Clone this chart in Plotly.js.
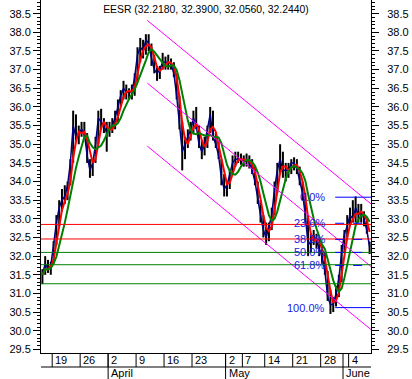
<!DOCTYPE html>
<html><head><meta charset="utf-8">
<script src="https://cdn.plot.ly/plotly-3.0.1.min.js"></script>
<style>html,body{margin:0;padding:0;background:#fff;}#chart{width:412px;height:379px;}</style>
</head><body><div id="chart"></div>
<script>
// Trading-day axis: day index 0 = Mar 15. Two bars per trading day.
const tickDays   = [2, 7, 12, 17, 22, 27, 33, 36, 40, 45, 50, 55];
const tickLabels = ['19', '26', '2', '9', '16', '23', '2', '7', '14', '21', '28', '4'];
const monthDays   = [12, 33, 54];
const monthLabels = ['April', 'May', 'June'];
const nDays = 59;

// Bars (high / low / close), two per day
const high = [
 31.65,32.0, 31.9,31.85, 32.4,33.1, 33.5,33.8, 33.9,34.0, 34.6,35.9, 35.8,35.5, 35.6,35.6, 35.3,34.6, 34.6,35.2,
 35.9,35.95, 35.7,35.6, 35.6,35.7, 35.9,36.2, 36.45,36.7, 36.6,36.5, 36.6,36.9, 37.6,37.85, 37.8,37.95, 37.95,37.7,
 37.4,37.1, 37.1,37.45, 37.35,37.4, 37.3,37.2, 36.9,36.3, 35.6,35.2, 35.4,35.6, 35.9,36.0, 35.5,35.1, 35.2,35.5,
 36.0,35.9, 35.3,35.1, 34.6,34.2, 34.0,34.3, 34.7,34.8, 34.8,34.75, 34.7,34.75, 34.7,34.6, 34.4,34.0, 33.5,33.1,
 32.9,32.9, 33.3,34.0, 34.5,35.0, 34.8,34.5, 34.5,34.6, 34.65,34.6, 34.4,34.0, 33.7,33.1, 32.6,32.7, 32.6,32.5,
 32.3,32.1, 31.6,31.1, 30.9,31.2, 31.5,32.3, 32.7,33.1, 33.3,33.5, 33.6,33.4, 33.4,33.2, 33.0,32.39
];
const low = [
 31.25,31.5, 31.55,31.5, 31.8,32.3, 32.8,33.2, 33.4,33.5, 33.9,34.5, 35.1,35.0, 35.2,35.2, 34.5,34.1, 34.15,34.5,
 35.0,35.4, 35.3,34.8, 35.2,35.3, 35.4,35.6, 36.0,36.2, 36.2,36.2, 36.2,36.3, 36.7,37.2, 37.3,37.4, 37.5,37.1,
 36.9,36.7, 36.75,37.0, 37.0,37.0, 37.0,36.8, 36.2,35.4, 34.3,34.6, 34.9,35.1, 35.3,35.4, 34.9,34.6, 34.7,34.9,
 35.3,35.1, 34.9,34.6, 33.9,33.6, 33.6,33.8, 34.2,34.4, 34.5,34.45, 34.4,34.4, 34.35,34.2, 33.9,33.4, 32.9,32.5,
 32.3,32.4, 32.7,33.1, 33.7,34.2, 34.1,34.0, 34.1,34.2, 34.3,34.2, 33.9,33.5, 32.9,32.0, 32.1,32.3, 32.2,32.0,
 31.8,31.5, 30.8,30.45, 30.5,30.65, 30.9,31.3, 32.1,32.5, 32.8,32.9, 32.9,32.9, 32.9,32.8, 32.6,32.056
];
const close = [
 31.5,31.8, 31.65,31.75, 32.3,32.9, 33.3,33.5, 33.6,33.9, 34.5,35.5, 35.2,35.3, 35.4,35.3, 34.7,34.3, 34.5,35.0,
 35.7,35.6, 35.5,35.3, 35.4,35.5, 35.7,36.0, 36.3,36.5, 36.4,36.4, 36.4,36.8, 37.4,37.6, 37.5,37.8, 37.7,37.3,
 37.0,36.9, 37.0,37.2, 37.2,37.2, 37.15,36.9, 36.3,35.6, 34.8,35.0, 35.2,35.4, 35.7,35.5, 35.0,34.8, 35.0,35.4,
 35.8,35.2, 35.0,34.7, 34.1,33.8, 33.9,34.2, 34.5,34.6, 34.6,34.6, 34.55,34.6, 34.5,34.3, 34.0,33.5, 33.1,32.7,
 32.5,32.8, 33.1,33.8, 34.3,34.6, 34.3,34.3, 34.3,34.5, 34.5,34.35, 34.0,33.7, 33.1,32.3, 32.4,32.55, 32.4,32.2,
 32.0,31.6, 30.9,30.7, 30.7,31.0, 31.4,32.1, 32.6,32.8, 33.1,33.0, 33.3,33.1, 33.2,33.0, 32.7,32.244
];

// Fibonacci retracement
const fibLabels = ['0.0%', '23.6%', '38.2%', '50.0%', '61.8%', '100.0%'];
const fibLevels = [33.58, 32.881, 32.449, 32.10, 31.751, 30.62];
const redLevels = [32.85, 32.46];
const greenLevels = [32.10, 31.77, 31.26];

// Trend channel
const chanX = [19.0, 59.0];
const chanUpper  = [38.32, 33.40];
const chanMiddle = [36.64, 31.72];
const chanLower  = [34.95, 30.03];

const titleText = 'EESR (32.2180, 32.3900, 32.0560, 32.2440)';

// ---- build ----
const barsPerDay = 2;
const bx = close.map((_, i) => (i + 0.5) / barsPerDay);
const segX = [], segY = [];
bx.forEach((x, i) => { segX.push(x, x, null); segY.push(high[i], low[i], null); });
function sma(a, n) { return a.map((_, i) => { const s = a.slice(Math.max(0, i - n + 1), i + 1); return s.reduce((p, c) => p + c, 0) / s.length; }); }

const yMin = 29.403, yMax = 38.867;
const font = 'Liberation Sans, Arial, sans-serif';
const traces = [
  {x: segX, y: segY, mode: 'lines', line: {color: '#000', width: 2}, hoverinfo: 'skip'},
  {x: bx, y: close, mode: 'lines', line: {color: '#000080', width: 1.5}},
  {x: bx, y: sma(close, 3), mode: 'lines', line: {color: '#ff0000', width: 2}},
  {x: bx, y: sma(close, 6), mode: 'lines', line: {color: '#008000', width: 2}},
  {x: chanX, y: chanUpper, mode: 'lines', line: {color: '#ff00ff', width: 1}, yaxis: 'y2'},
  {x: chanX, y: chanMiddle, mode: 'lines', line: {color: '#ff00ff', width: 1}, yaxis: 'y2'},
  {x: chanX, y: chanLower, mode: 'lines', line: {color: '#ff00ff', width: 1}, yaxis: 'y2'}
];

const shapes = [], annotations = [];
const rowY = -14 / 353, botY = -30 / 353;
redLevels.forEach(v => shapes.push({type: 'line', xref: 'paper', yref: 'y', x0: 0, x1: 1, y0: v, y1: v, line: {color: '#ff0000', width: 1}}));
greenLevels.forEach(v => shapes.push({type: 'line', xref: 'paper', yref: 'y', x0: 0, x1: 1, y0: v, y1: v, line: {color: '#008000', width: 1}}));
fibLevels.forEach((v, i) => {
  const solid = (i === 0 || i === fibLevels.length - 1);
  shapes.push({type: 'line', xref: 'x', yref: 'y', x0: 52.6, x1: nDays, y0: v, y1: v, line: {color: '#0000ff', width: 1, dash: solid ? 'solid' : 'dash'}});
  annotations.push({xref: 'x', yref: 'y', x: 51.1, y: v, xanchor: 'right', yanchor: 'middle', text: fibLabels[i], showarrow: false, font: {family: font, size: 11, color: '#2020e0'}});
});
shapes.push({type: 'line', xref: 'paper', yref: 'paper', x0: 0, x1: 1, y0: rowY, y1: rowY, line: {color: '#000', width: 1}});
tickDays.forEach((d, i) => {
  shapes.push({type: 'line', xref: 'x', yref: 'paper', x0: d, x1: d, y0: 0, y1: rowY, line: {color: '#000', width: 1}});
  annotations.push({xref: 'x', yref: 'paper', x: d, y: rowY / 2, xanchor: 'left', yanchor: 'middle', xshift: 1, text: tickLabels[i], showarrow: false, font: {family: font, size: 11, color: '#000'}});
});
monthDays.forEach((d, i) => {
  shapes.push({type: 'line', xref: 'x', yref: 'paper', x0: d, x1: d, y0: 0, y1: botY, line: {color: '#000', width: 1}});
  annotations.push({xref: 'x', yref: 'paper', x: d, y: -20 / 353, xanchor: 'left', yanchor: 'middle', xshift: 1, text: monthLabels[i], showarrow: false, font: {family: font, size: 11, color: '#000'}});
});

const yax = {range: [yMin, yMax], tick0: 29.5, dtick: 0.5, tickformat: '.1f', ticks: 'outside', ticklen: 7, tickwidth: 1, tickcolor: '#000',
  showgrid: false, zeroline: false, showline: true, linecolor: '#000', linewidth: 1, fixedrange: true,
  tickfont: {family: font, size: 11, color: '#000'},
  minor: {dtick: 0.1, tick0: 29.5, ticks: 'outside', ticklen: 3, tickcolor: '#000', showgrid: false}};

const layout = {
  width: 412, height: 379, margin: {l: 41, r: 41, t: 0, b: 26, pad: 0},
  paper_bgcolor: '#fff', plot_bgcolor: '#fff', showlegend: false,
  font: {family: font, size: 11, color: '#000'},
  title: {text: titleText, x: 0.5, xanchor: 'center', xref: 'paper', y: 1 - 9 / 379, yref: 'container', yanchor: 'middle', font: {family: font, size: 10.4, color: '#000'}},
  xaxis: {range: [0, nDays], showticklabels: false, ticks: '', showgrid: false, zeroline: false, showline: true, linecolor: '#000', linewidth: 1, fixedrange: true},
  yaxis: yax,
  yaxis2: Object.assign({}, yax, {overlaying: 'y', side: 'right', ticklabelstandoff: 6}),
  shapes: shapes, annotations: annotations
};
Plotly.newPlot('chart', traces, layout, {displayModeBar: false, staticPlot: true});
</script></body></html>
